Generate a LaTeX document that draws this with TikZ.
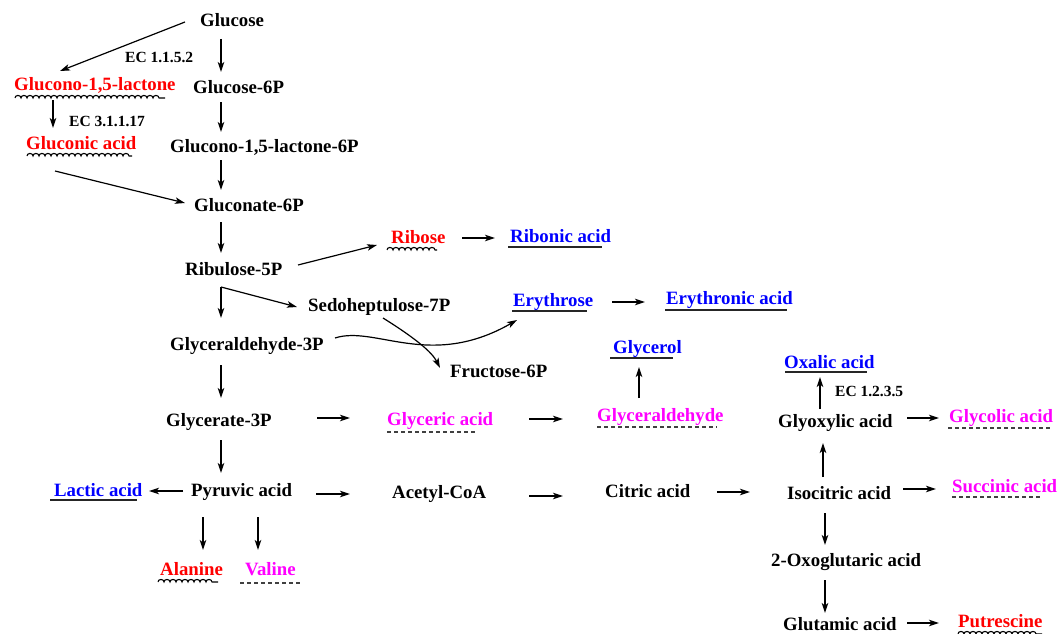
\documentclass[tikz,border=0pt]{standalone}
\usepackage{fontspec}
\setmainfont{Liberation Serif}
\usetikzlibrary{arrows.meta,decorations.pathmorphing}
\definecolor{pred}{RGB}{255,0,0}
\definecolor{pblue}{RGB}{0,0,255}
\definecolor{pmag}{RGB}{255,0,255}
\tikzset{
 lbl/.style={anchor=base west, inner sep=0pt, font=\fontsize{18.8}{22}\selectfont\bfseries},
 eclbl/.style={anchor=base west, inner sep=0pt, font=\fontsize{15.5}{18}\selectfont\bfseries},
 redt/.style={lbl,text=pred},
 bluet/.style={lbl,text=pblue},
 magt/.style={lbl,text=pmag},
 arr/.style={line width=1.2pt, -{Stealth[length=10pt,width=6.5pt,inset=2.5pt]}},
 solidul/.style={line width=1.3pt, draw=black!85},
 dashul/.style={line width=1.1pt, dash pattern=on 3.5pt off 3.5pt, draw=black!75},
 wavyul/.style={line width=1.1pt, decorate, decoration={bumps, segment length=12pt, amplitude=2.6pt}},
}
\begin{document}
\begin{tikzpicture}[x=1pt,y=-1pt]
\useasboundingbox (0,0) rectangle (1058,634);
% nodes
\node[lbl] (glc) at (200,27) {Glucose};
\node[eclbl] (ec1) at (125,63) {EC 1.1.5.2};
\node[redt] (gl15) at (14,90) {Glucono-1,5-lactone};
\node[lbl] (g6p) at (193,93) {Glucose-6P};
\node[eclbl] (ec2) at (69,126) {EC 3.1.1.17};
\node[redt] (gacid) at (26,149) {Gluconic acid};
\node[lbl] (gl6p) at (170,152) {Glucono-1,5-lactone-6P};
\node[lbl] (gnt) at (194,211) {Gluconate-6P};
\node[lbl] (ru5p) at (185,275) {Ribulose-5P};
\node[redt] (rib) at (391,243) {Ribose};
\node[bluet] (ribac) at (510,242) {Ribonic acid};
\node[lbl] (sed) at (308,311) {Sedoheptulose-7P};
\node[bluet] (ery) at (513,306) {Erythrose};
\node[bluet] (eryac) at (666,304) {Erythronic acid};
\node[lbl] (g3p) at (170,350) {Glyceraldehyde-3P};
\node[lbl] (f6p) at (450,377) {Fructose-6P};
\node[bluet] (glyol) at (613,353) {Glycerol};
\node[bluet] (oxa) at (784,368) {Oxalic acid};
\node[eclbl] (ec3) at (835,396) {EC 1.2.3.5};
\node[lbl] (gla3p) at (166,426) {Glycerate-3P};
\node[magt] (glyac) at (387,425) {Glyceric acid};
\node[magt] (glyald) at (597,421) {Glyceraldehyde};
\node[lbl] (glx) at (778,427) {Glyoxylic acid};
\node[magt] (glcac) at (949,422) {Glycolic acid};
\node[bluet] (lac) at (54,496) {Lactic acid};
\node[lbl] (pyr) at (191,496) {Pyruvic acid};
\node[lbl] (acoa) at (392,498) {Acetyl-CoA};
\node[lbl] (cit) at (605,497) {Citric acid};
\node[lbl] (icit) at (787,499) {Isocitric acid};
\node[magt] (succ) at (952,492) {Succinic acid};
\node[redt] (ala) at (160,575) {Alanine};
\node[magt] (val) at (245,575) {Valine};
\node[lbl] (oxg) at (771,566) {2-Oxoglutaric acid};
\node[lbl] (glu) at (783,630) {Glutamic acid};
\node[redt] (put) at (958,627) {Putrescine};
% underlines
\draw[wavyul] ([shift={(1,8)}]gl15.base west) -- ([shift={(151,8)}]gl15.base west);
\draw[wavyul] ([shift={(1,7)}]gacid.base west) -- ([shift={(106,7)}]gacid.base west);
\draw[wavyul] ([shift={(-4,7)}]rib.base west) -- ([shift={(46,7)}]rib.base west);
\draw[wavyul] ([shift={(-2,7)}]ala.base west) -- ([shift={(58,7)}]ala.base west);
\draw[wavyul] ([shift={(0,7)}]put.base west) -- ([shift={(84,7)}]put.base west);
\draw[solidul] ([shift={(-2,5)}]ribac.base west) -- ([shift={(92,5)}]ribac.base west);
\draw[solidul] ([shift={(-1,5)}]ery.base west) -- ([shift={(74,5)}]ery.base west);
\draw[solidul] ([shift={(-1,6)}]eryac.base west) -- ([shift={(121,6)}]eryac.base west);
\draw[solidul] ([shift={(-3,5)}]glyol.base west) -- ([shift={(60,5)}]glyol.base west);
\draw[solidul] ([shift={(1,4)}]oxa.base west) -- ([shift={(83,4)}]oxa.base west);
\draw[solidul] ([shift={(-4,4)}]lac.base west) -- ([shift={(83,4)}]lac.base west);
\draw[dashul] ([shift={(0,6)}]glyald.base west) -- ([shift={(120,6)}]glyald.base west);
\draw[dashul] ([shift={(0,7)}]glyac.base west) -- ([shift={(91,7)}]glyac.base west);
\draw[dashul] ([shift={(-1,6)}]glcac.base west) -- ([shift={(104,6)}]glcac.base west);
\draw[dashul] ([shift={(0,5)}]succ.base west) -- ([shift={(90,5)}]succ.base west);
\draw[dashul] ([shift={(-5,8)}]val.base west) -- ([shift={(57,8)}]val.base west);
% connectors
\draw[arr] ([shift={(-15,-5)}]glc.base west) -- ([shift={(46,-19)}]gl15.base west);
\draw[arr] ([shift={(21,12)}]glc.base west) -- ([shift={(28,-21)}]g6p.base west);
\draw[arr] ([shift={(28,9)}]g6p.base west) -- ([shift={(51,-20)}]gl6p.base west);
\draw[arr] ([shift={(51,8)}]gl6p.base west) -- ([shift={(27,-21)}]gnt.base west);
\draw[arr] ([shift={(39,10)}]gl15.base west) -- ([shift={(27,-21)}]gacid.base west);
\draw[arr] ([shift={(29,22)}]gacid.base west) -- ([shift={(-9,-8)}]gnt.base west);
\draw[arr] ([shift={(27,11)}]gnt.base west) -- ([shift={(36,-22)}]ru5p.base west);
\draw[arr] ([shift={(113,-10)}]ru5p.base west) -- ([shift={(-14,2)}]rib.base west);
\draw[arr] ([shift={(71,-5)}]rib.base west) -- ([shift={(-15,-4)}]ribac.base west);
\draw[arr] ([shift={(36,12)}]ru5p.base west) -- ([shift={(51,-32)}]g3p.base west);
\draw[arr] ([shift={(36,12)}]ru5p.base west) -- ([shift={(-11,-4)}]sed.base west);
\draw[arr] ([shift={(165,-12)}]g3p.base west) .. controls ([shift={(205,-25)}]g3p.base west) and ([shift={(-83,64)}]ery.base west) .. ([shift={(4,14)}]ery.base west);
\draw[arr] ([shift={(75,7)}]sed.base west) .. controls ([shift={(107,27)}]sed.base west) and ([shift={(-18,-25)}]f6p.base west) .. ([shift={(-10,-9)}]f6p.base west);
\draw[arr] ([shift={(99,-4)}]ery.base west) -- ([shift={(-21,-2)}]eryac.base west);
\draw[arr] ([shift={(42,-23)}]glyald.base west) -- ([shift={(26,14)}]glyol.base west);
\draw[arr] ([shift={(51,15)}]g3p.base west) -- ([shift={(55,-28)}]gla3p.base west);
\draw[arr] ([shift={(151,-8)}]gla3p.base west) -- ([shift={(-37,-7)}]glyac.base west);
\draw[arr] ([shift={(142,-6)}]glyac.base west) -- ([shift={(-34,-2)}]glyald.base west);
\draw[arr] ([shift={(55,14)}]gla3p.base west) -- ([shift={(30,-23)}]pyr.base west);
\draw[arr] ([shift={(-8,-5)}]pyr.base west) -- ([shift={(95,-5)}]lac.base west);
\draw[arr] ([shift={(125,-2)}]pyr.base west) -- ([shift={(-42,-4)}]acoa.base west);
\draw[arr] ([shift={(137,-2)}]acoa.base west) -- ([shift={(-42,-1)}]cit.base west);
\draw[arr] ([shift={(112,-5)}]cit.base west) -- ([shift={(-37,-7)}]icit.base west);
\draw[arr] ([shift={(12,21)}]pyr.base west) -- ([shift={(43,-25)}]ala.base west);
\draw[arr] ([shift={(67,21)}]pyr.base west) -- ([shift={(13,-25)}]val.base west);
\draw[arr] ([shift={(36,-22)}]icit.base west) -- ([shift={(45,16)}]glx.base west);
\draw[arr] ([shift={(42,-18)}]glx.base west) -- ([shift={(36,9)}]oxa.base west);
\draw[arr] ([shift={(129,-9)}]glx.base west) -- ([shift={(-10,-4)}]glcac.base west);
\draw[arr] ([shift={(116,-10)}]icit.base west) -- ([shift={(-16,-3)}]succ.base west);
\draw[arr] ([shift={(38,14)}]icit.base west) -- ([shift={(54,-21)}]oxg.base west);
\draw[arr] ([shift={(54,14)}]oxg.base west) -- ([shift={(42,-17)}]glu.base west);
\draw[arr] ([shift={(124,-7)}]glu.base west) -- ([shift={(-19,-4)}]put.base west);
\end{tikzpicture}
\end{document}
